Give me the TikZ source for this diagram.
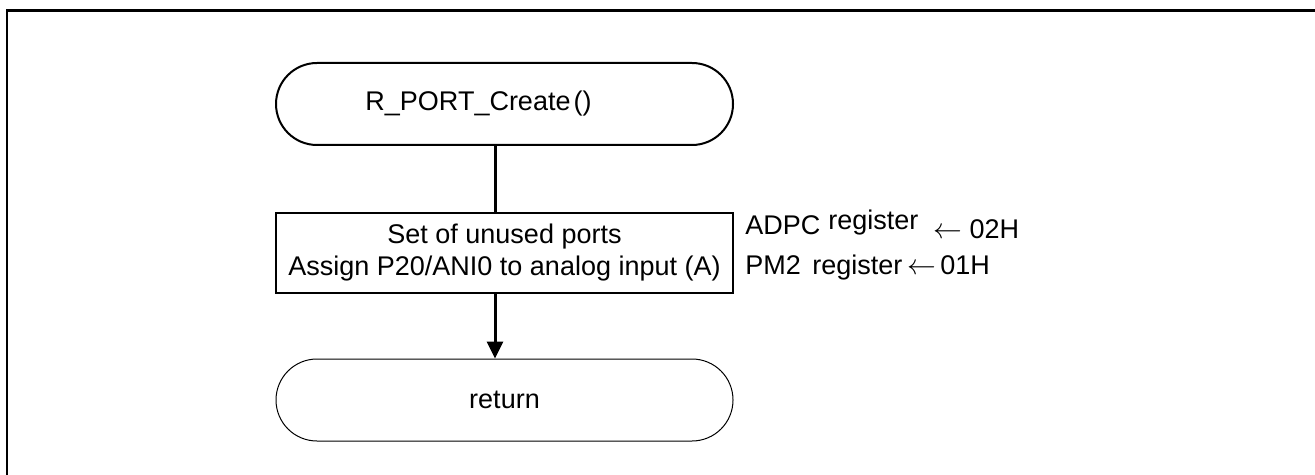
\documentclass[tikz,border=0pt]{standalone}
\usepackage{fontspec}
\setmainfont{Liberation Sans}
\usetikzlibrary{arrows.meta}
\tikzset{
  term/.style={draw, rounded corners=20.5pt, minimum width=228.5pt, minimum height=41pt, inner sep=0pt},
  procbox/.style={draw, line width=0.75pt, minimum width=228.5pt, minimum height=40pt, inner sep=0pt, align=center},
  conn/.style={line width=1.5pt},
  arr/.style={line width=1.5pt, -{Triangle[length=8.5pt,width=8pt]}},
  note/.style={inner sep=0pt, anchor=base west},
  frame/.style={line width=1.35pt}
}
\begin{document}
\begin{tikzpicture}[x=0.5pt,y=-0.5pt,font=\fontsize{13.5pt}{16pt}\selectfont]
\useasboundingbox (0,0) rectangle (1315,475);
\draw[frame] (7,475) -- (7,10.5) -- (1315,10.5);
\node[term, line width=1pt] (start) at (504.5,104) {\hspace*{-26pt}R\_PORT\_Create\kern1.5pt()};
\node[procbox] (setp) at (504.5,253) {Set of unused ports\\Assign P20/ANI0 to analog input (A)};
\node[term, line width=0.5pt] (ret) at (504.5,400) {return};
\coordinate (cx) at (495,0);
\draw[conn] (start.south -| cx) -- (setp.north -| cx);
\draw[arr] (setp.south -| cx) -- (ret.north -| cx);
\node[note] (adpc) at (745,234.5) {ADPC};
\node[note] (adpcreg) at (828,230) {register};
\node[note] (adpcval) at (933,239) {$\leftarrow$ 02H};
\node[note] (pm2) at (745,275) {PM2};
\node[note] (pm2reg) at (812,275) {register};
\node[note] (pm2arr) at (907,275) {$\leftarrow$};
\node[note] (pm2val) at (940,275) {01H};
\end{tikzpicture}
\end{document}
